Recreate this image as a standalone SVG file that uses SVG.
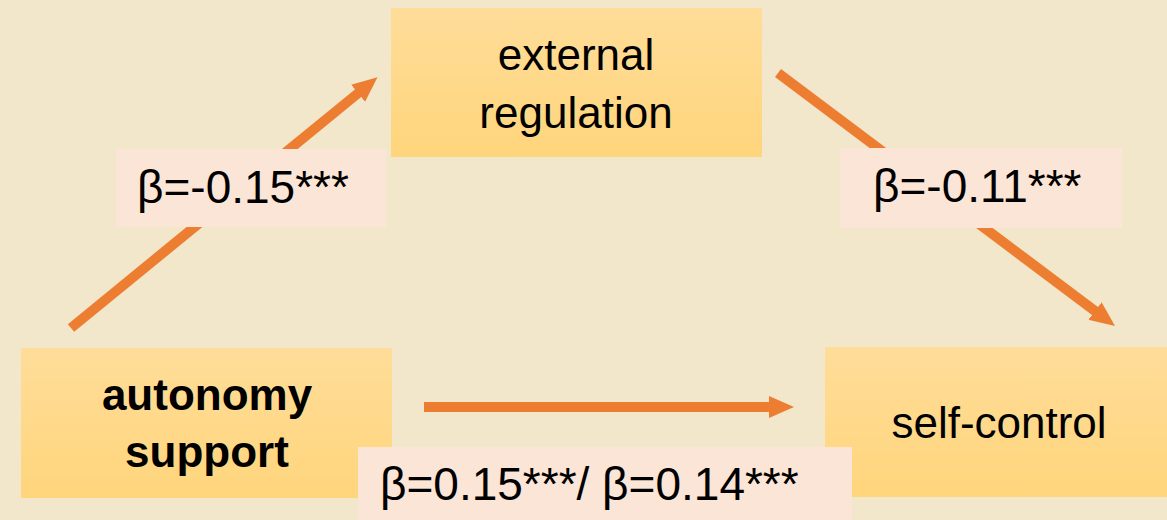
<svg xmlns="http://www.w3.org/2000/svg" width="1167" height="520" viewBox="0 0 1167 520">
<style>
.box{fill:url(#g)}
.lbl{fill:#FBE5D6}
.t{font-family:"Liberation Sans",Arial,sans-serif;font-size:44px;fill:#000}
.n{font-size:46px}
.b{font-weight:bold}
.c{stroke:#ED7D31;stroke-width:10;fill:none;marker-end:url(#ah)}
</style>
<defs>
<linearGradient id="g" x1="0" y1="0" x2="0" y2="1">
<stop offset="0" stop-color="#FFDD99"/>
<stop offset="1" stop-color="#FFD57C"/>
</linearGradient>
<marker id="ah" markerUnits="userSpaceOnUse" markerWidth="26" markerHeight="24" viewBox="0 0 26 24" refX="5" refY="12" orient="auto">
<path d="M0,1 L25,12 L0,23 Z" fill="#ED7D31"/>
</marker>
</defs>
<rect width="1167" height="520" fill="#F2E6CB"/>
<g id="connectors">
<line class="c" x1="71" y1="328" x2="362" y2="90"/>
<line class="c" x1="778" y1="73" x2="1099" y2="314"/>
<line class="c" x1="424" y1="407" x2="774" y2="407"/>
</g>
<g id="external-regulation">
<rect class="box" x="391" y="8" width="371" height="149"/>
<text class="t" x="576" y="70" text-anchor="middle">external</text>
<text class="t" x="576" y="128" text-anchor="middle">regulation</text>
</g>
<g id="autonomy-support">
<rect class="box" x="21" y="348" width="371" height="150"/>
<text class="t b" x="207" y="410" text-anchor="middle">autonomy</text>
<text class="t b" x="207" y="467" text-anchor="middle">support</text>
</g>
<g id="self-control">
<rect class="box" x="825" y="347" width="342" height="150"/>
<text class="t" x="999" y="438" text-anchor="middle">self-control</text>
</g>
<g id="label-a">
<rect class="lbl" x="116" y="149" width="270" height="78"/>
<text class="t n" x="137" y="203">β=-0.15***</text>
</g>
<g id="label-b">
<rect class="lbl" x="840" y="148" width="282" height="80"/>
<text class="t n" x="873" y="202">β=-0.11***</text>
</g>
<g id="label-c">
<rect class="lbl" x="358" y="447" width="494" height="73"/>
<text class="t n" x="380" y="500">β=0.15***/ β=0.14***</text>
</g>
</svg>
